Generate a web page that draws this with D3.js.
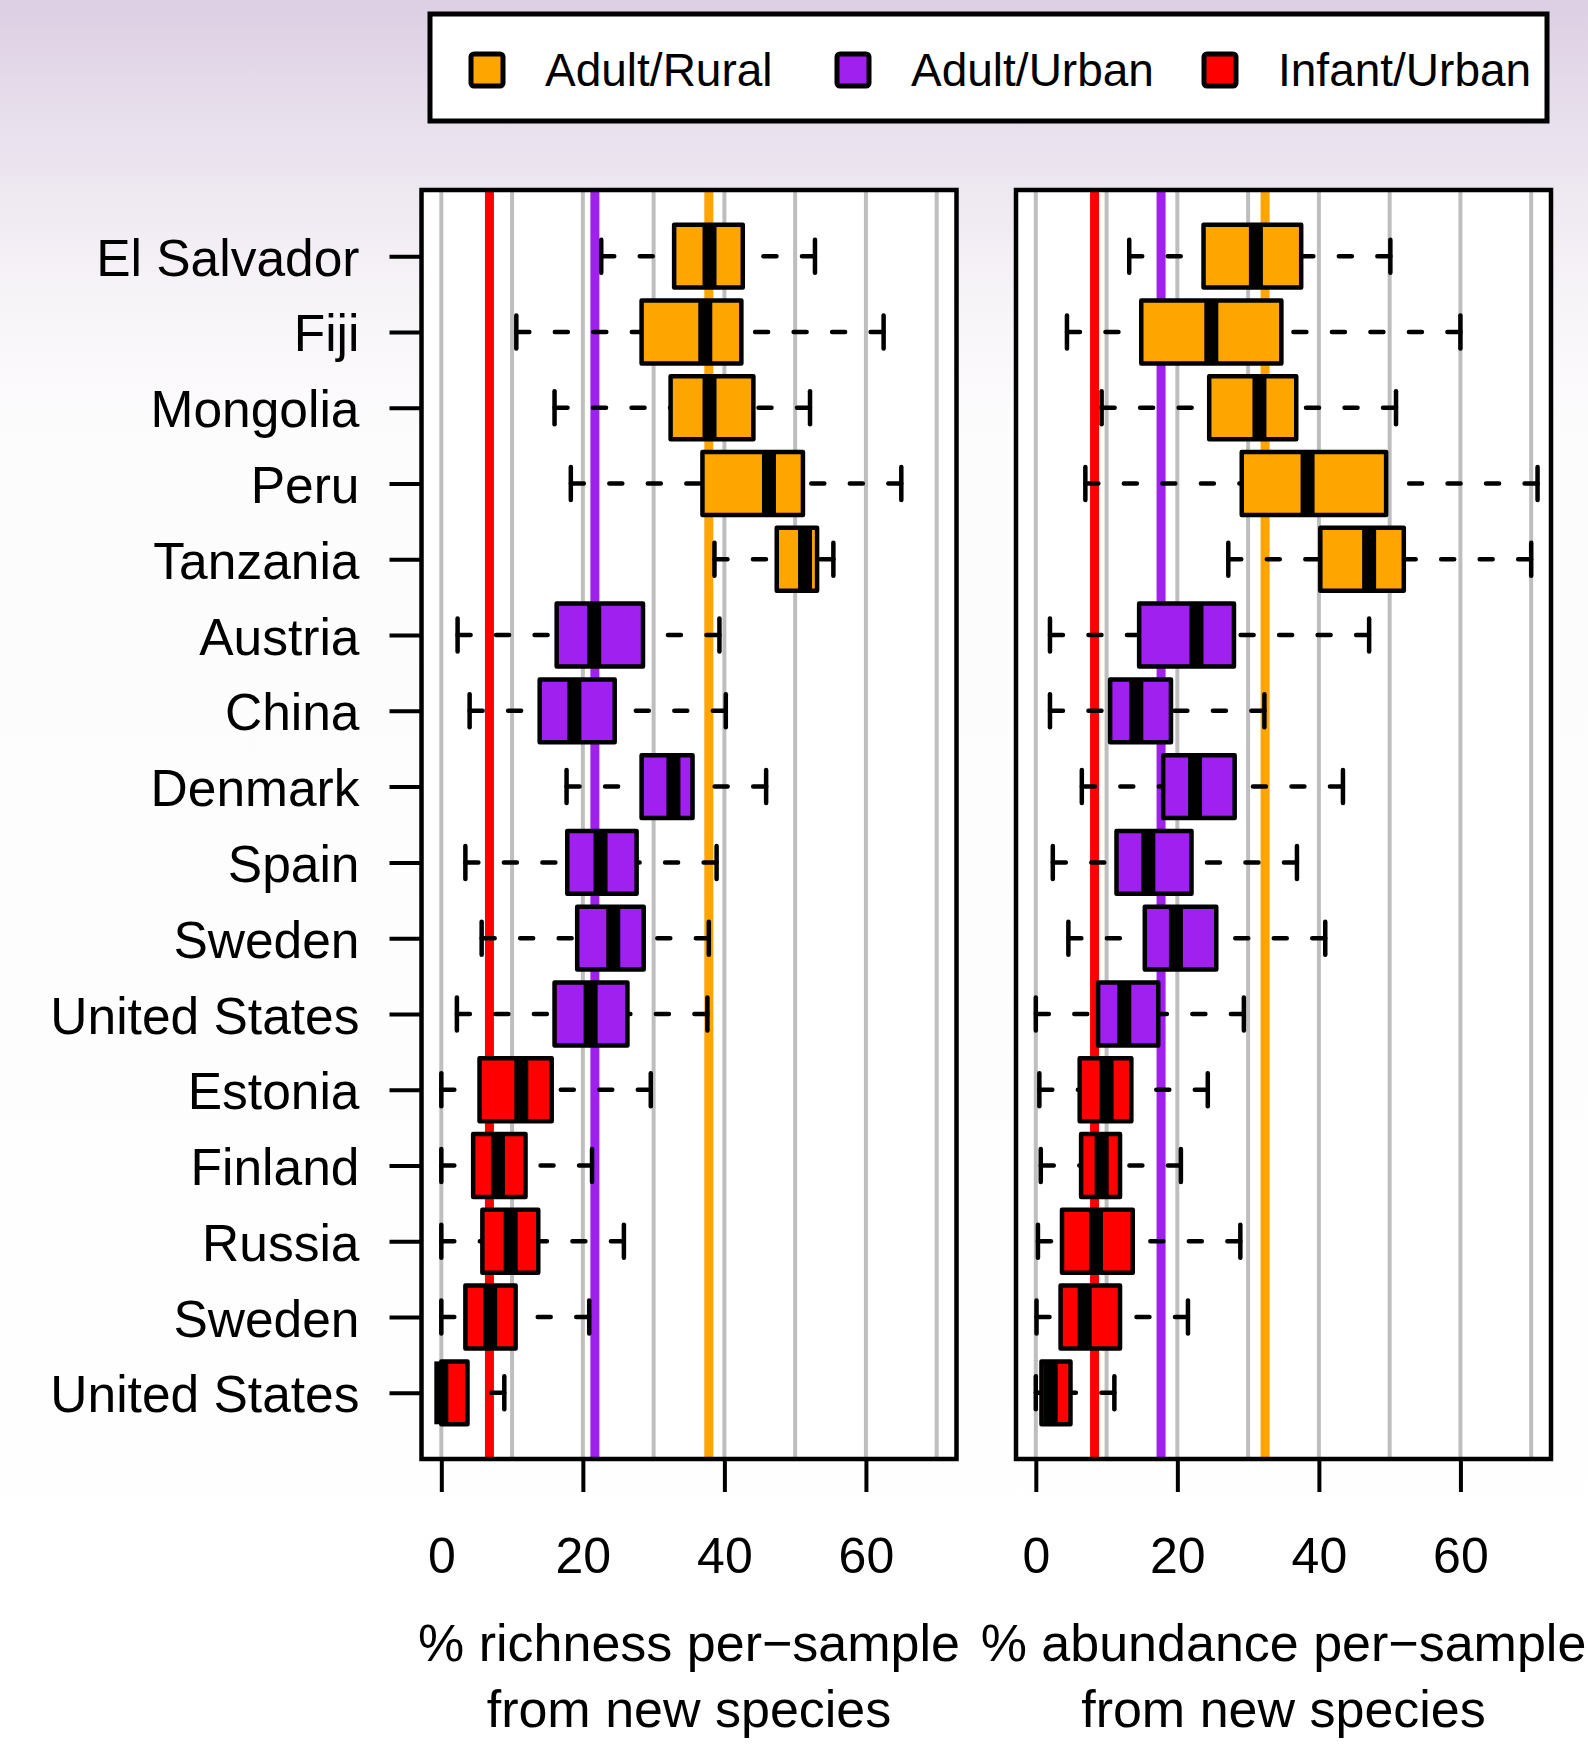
<!DOCTYPE html>
<html>
<head>
<meta charset="utf-8">
<script src="https://cdn.jsdelivr.net/npm/d3@7"></script>
<style>
  body { margin: 0; background: #fff; }
  svg { display: block; font-family: "Liberation Sans", Arial, Helvetica, sans-serif; }
</style>
</head>
<body>
<svg width="1588" height="1744"></svg>
<script>
// row labels, top to bottom
const countries = ['El Salvador', 'Fiji', 'Mongolia', 'Peru', 'Tanzania',
    'Austria', 'China', 'Denmark', 'Spain', 'Sweden', 'United States',
    'Estonia', 'Finland', 'Russia', 'Sweden', 'United States'];
const groups = ['Adult/Rural', 'Adult/Rural', 'Adult/Rural', 'Adult/Rural', 'Adult/Rural',
    'Adult/Urban', 'Adult/Urban', 'Adult/Urban', 'Adult/Urban', 'Adult/Urban', 'Adult/Urban',
    'Infant/Urban', 'Infant/Urban', 'Infant/Urban', 'Infant/Urban', 'Infant/Urban'];

const groupNames = ['Adult/Rural', 'Adult/Urban', 'Infant/Urban'];
const groupColors = ['#FFA500', '#A020F0', '#FF0000'];

// [lower whisker, Q1, median, Q3, upper whisker]
const richness = [
    [22.6, 32.9, 37.9, 42.6, 52.8],
    [10.6, 28.3, 37.3, 42.4, 62.5],
    [16.0, 32.4, 37.9, 44.1, 52.1],
    [18.3, 36.9, 46.3, 51.1, 65.0],
    [38.6, 47.4, 51.4, 53.1, 55.4],
    [2.3, 16.3, 21.6, 28.5, 39.3],
    [4.0, 13.9, 18.8, 24.5, 40.2],
    [17.7, 28.3, 32.8, 35.5, 45.9],
    [3.4, 17.8, 22.5, 27.6, 38.9],
    [5.7, 19.2, 24.3, 28.6, 37.8],
    [2.2, 16.0, 21.1, 26.3, 37.6],
    [0.0, 5.4, 11.3, 15.6, 29.6],
    [0.0, 4.5, 8.0, 11.9, 21.3],
    [0.0, 5.8, 9.8, 13.7, 25.8],
    [0.0, 3.4, 6.9, 10.5, 20.9],
    [0.0, 0.0, 0.0, 3.7, 8.9]
];
const abundance = [
    [13.2, 23.7, 31.1, 37.5, 50.1],
    [4.4, 14.9, 24.8, 34.7, 60.0],
    [9.3, 24.5, 31.6, 36.8, 50.9],
    [7.0, 29.1, 38.4, 49.5, 70.9],
    [27.2, 40.2, 47.1, 52.0, 70.0],
    [2.0, 14.6, 22.7, 28.0, 47.1],
    [2.0, 10.5, 14.2, 19.1, 32.3],
    [6.5, 18.0, 22.5, 28.1, 43.4],
    [2.4, 11.4, 15.9, 22.0, 36.9],
    [4.6, 15.4, 19.8, 25.5, 40.9],
    [0.0, 8.8, 12.5, 17.3, 29.4],
    [0.5, 6.2, 10.0, 13.5, 24.3],
    [0.7, 6.4, 9.3, 11.9, 20.5],
    [0.3, 3.7, 8.5, 13.7, 28.9],
    [0.1, 3.5, 6.9, 11.9, 21.5],
    [0.0, 0.8, 2.1, 4.9, 11.1]
];

// group reference lines (Adult/Rural, Adult/Urban, Infant/Urban)
const richnessRef = [37.8, 21.7, 6.8];
const abundanceRef = [32.4, 17.7, 8.3];

const xTicks = [0, 20, 40, 60];
const gridVals = [0, 10, 20, 30, 40, 50, 60, 70];

const titles = [
    ['% richness per\u2212sample', 'from new species'],
    ['% abundance per\u2212sample', 'from new species']
];

const svg = d3.select('svg');

// background wash
const defs = svg.append('defs');
const grad = defs.append('linearGradient').attr('id', 'bg').attr('x1', 0).attr('y1', 0).attr('x2', 0).attr('y2', 1);
[[0, '#dccee3'], [0.05, '#e5dbea'], [0.11, '#eee8f1'], [0.17, '#f7f4f8'], [0.25, '#fdfcfd'], [1, '#ffffff']]
    .forEach(function (s) {
        grad.append('stop').attr('offset', s[0]).attr('stop-color', s[1]);
    });
svg.append('rect').attr('width', 1588).attr('height', 1744).attr('fill', 'url(#bg)');

const plotTop = 190, plotBottom = 1459;
const panelW = 535;

const y = d3.scalePoint().domain(d3.range(countries.length)).range([plotTop, plotBottom]).padding(0.873);
const step = y.step();
const boxH = step * 0.83;
const stapleH = 33;

const colorOf = d3.scaleOrdinal().domain(groupNames).range(groupColors);

function drawPanel(x0, stats, refs, title, withLabels) {
    const x = d3.scaleLinear().domain([-2.8, 72.8]).range([x0, x0 + panelW]);
    const g = svg.append('g');

    g.append('rect')
        .attr('x', x0).attr('y', plotTop).attr('width', panelW).attr('height', plotBottom - plotTop)
        .attr('fill', '#fff');

    // grid
    g.selectAll('.grid').data(gridVals).enter().append('line')
        .attr('x1', d => x(d)).attr('x2', d => x(d))
        .attr('y1', plotTop).attr('y2', plotBottom)
        .attr('stroke', '#bebebe').attr('stroke-width', 4);

    // group reference lines
    g.selectAll('.ref').data(refs).enter().append('line')
        .attr('x1', d => x(d)).attr('x2', d => x(d))
        .attr('y1', plotTop).attr('y2', plotBottom)
        .attr('stroke', (d, i) => groupColors[i]).attr('stroke-width', 9);

    const rows = g.selectAll('.row').data(stats).enter().append('g')
        .attr('transform', (d, i) => 'translate(0,' + y(i) + ')');

    // whiskers, drawn from the ends inwards
    rows.append('line')
        .attr('x1', d => x(d[0])).attr('x2', d => x(d[1]))
        .attr('stroke', '#000').attr('stroke-width', 4.5)
        .attr('stroke-dasharray', '13,25.5').attr('stroke-linecap', 'round');
    rows.append('line')
        .attr('x1', d => x(d[4])).attr('x2', d => x(d[3]))
        .attr('stroke', '#000').attr('stroke-width', 4.5)
        .attr('stroke-dasharray', '13,25.5').attr('stroke-linecap', 'round');

    // staples
    rows.append('line')
        .attr('x1', d => x(d[0])).attr('x2', d => x(d[0]))
        .attr('y1', -stapleH / 2).attr('y2', stapleH / 2)
        .attr('stroke', '#000').attr('stroke-width', 4.5).attr('stroke-linecap', 'round');
    rows.append('line')
        .attr('x1', d => x(d[4])).attr('x2', d => x(d[4]))
        .attr('y1', -stapleH / 2).attr('y2', stapleH / 2)
        .attr('stroke', '#000').attr('stroke-width', 4.5).attr('stroke-linecap', 'round');

    // boxes
    rows.append('rect')
        .attr('x', d => x(d[1])).attr('width', d => x(d[3]) - x(d[1]))
        .attr('y', -boxH / 2).attr('height', boxH)
        .attr('fill', (d, i) => colorOf(groups[i]))
        .attr('stroke', '#000').attr('stroke-width', 4.5).attr('stroke-linejoin', 'round');

    // medians
    rows.append('line')
        .attr('x1', d => x(d[2])).attr('x2', d => x(d[2]))
        .attr('y1', -boxH / 2).attr('y2', boxH / 2)
        .attr('stroke', '#000').attr('stroke-width', 14);

    // frame
    g.append('rect')
        .attr('x', x0).attr('y', plotTop).attr('width', panelW).attr('height', plotBottom - plotTop)
        .attr('fill', 'none').attr('stroke', '#000').attr('stroke-width', 4.5);

    // x axis
    const ax = g.append('g').attr('transform', 'translate(0,' + plotBottom + ')')
        .call(d3.axisBottom(x).tickValues(xTicks).tickSize(33).tickPadding(45).tickFormat(d3.format('d')));
    ax.select('.domain').remove();
    ax.selectAll('line').attr('stroke', '#000').attr('stroke-width', 4);
    ax.selectAll('text').attr('font-size', 50).attr('fill', '#000')
        .attr('font-family', '"Liberation Sans", Arial, sans-serif');

    // y axis
    if (withLabels) {
        const ay = g.append('g').attr('transform', 'translate(' + x0 + ',0)')
            .call(d3.axisLeft(y).tickSize(32).tickPadding(30).tickFormat(i => countries[i]));
        ay.select('.domain').remove();
        ay.selectAll('line').attr('stroke', '#000').attr('stroke-width', 4);
        ay.selectAll('text').attr('font-size', 51.5).attr('fill', '#000').attr('dy', '0.37em')
            .attr('font-family', '"Liberation Sans", Arial, sans-serif');
    }

    // title
    const cx = x0 + panelW / 2;
    g.append('text').attr('x', cx).attr('y', 1661).attr('text-anchor', 'middle')
        .attr('font-size', 52).text(title[0]);
    g.append('text').attr('x', cx).attr('y', 1727).attr('text-anchor', 'middle')
        .attr('font-size', 52).text(title[1]);
}

drawPanel(421.5, richness, richnessRef, titles[0], true);
drawPanel(1016, abundance, abundanceRef, titles[1], false);

// legend
const legend = svg.append('g');
legend.append('rect')
    .attr('x', 430).attr('y', 14).attr('width', 1117).attr('height', 107)
    .attr('fill', '#fff').attr('stroke', '#000').attr('stroke-width', 5);

const legendSymX = [487, 853, 1220];
const legendTextX = [545, 911, 1278];
const items = legend.selectAll('.item').data(groupNames).enter().append('g');
items.append('rect')
    .attr('x', (d, i) => legendSymX[i] - 16).attr('y', 54)
    .attr('width', 32).attr('height', 32).attr('rx', 3)
    .attr('fill', d => colorOf(d))
    .attr('stroke', '#000').attr('stroke-width', 5);
items.append('text')
    .attr('x', (d, i) => legendTextX[i]).attr('y', 86)
    .attr('font-size', 46).text(d => d);
</script>
</body>
</html>
